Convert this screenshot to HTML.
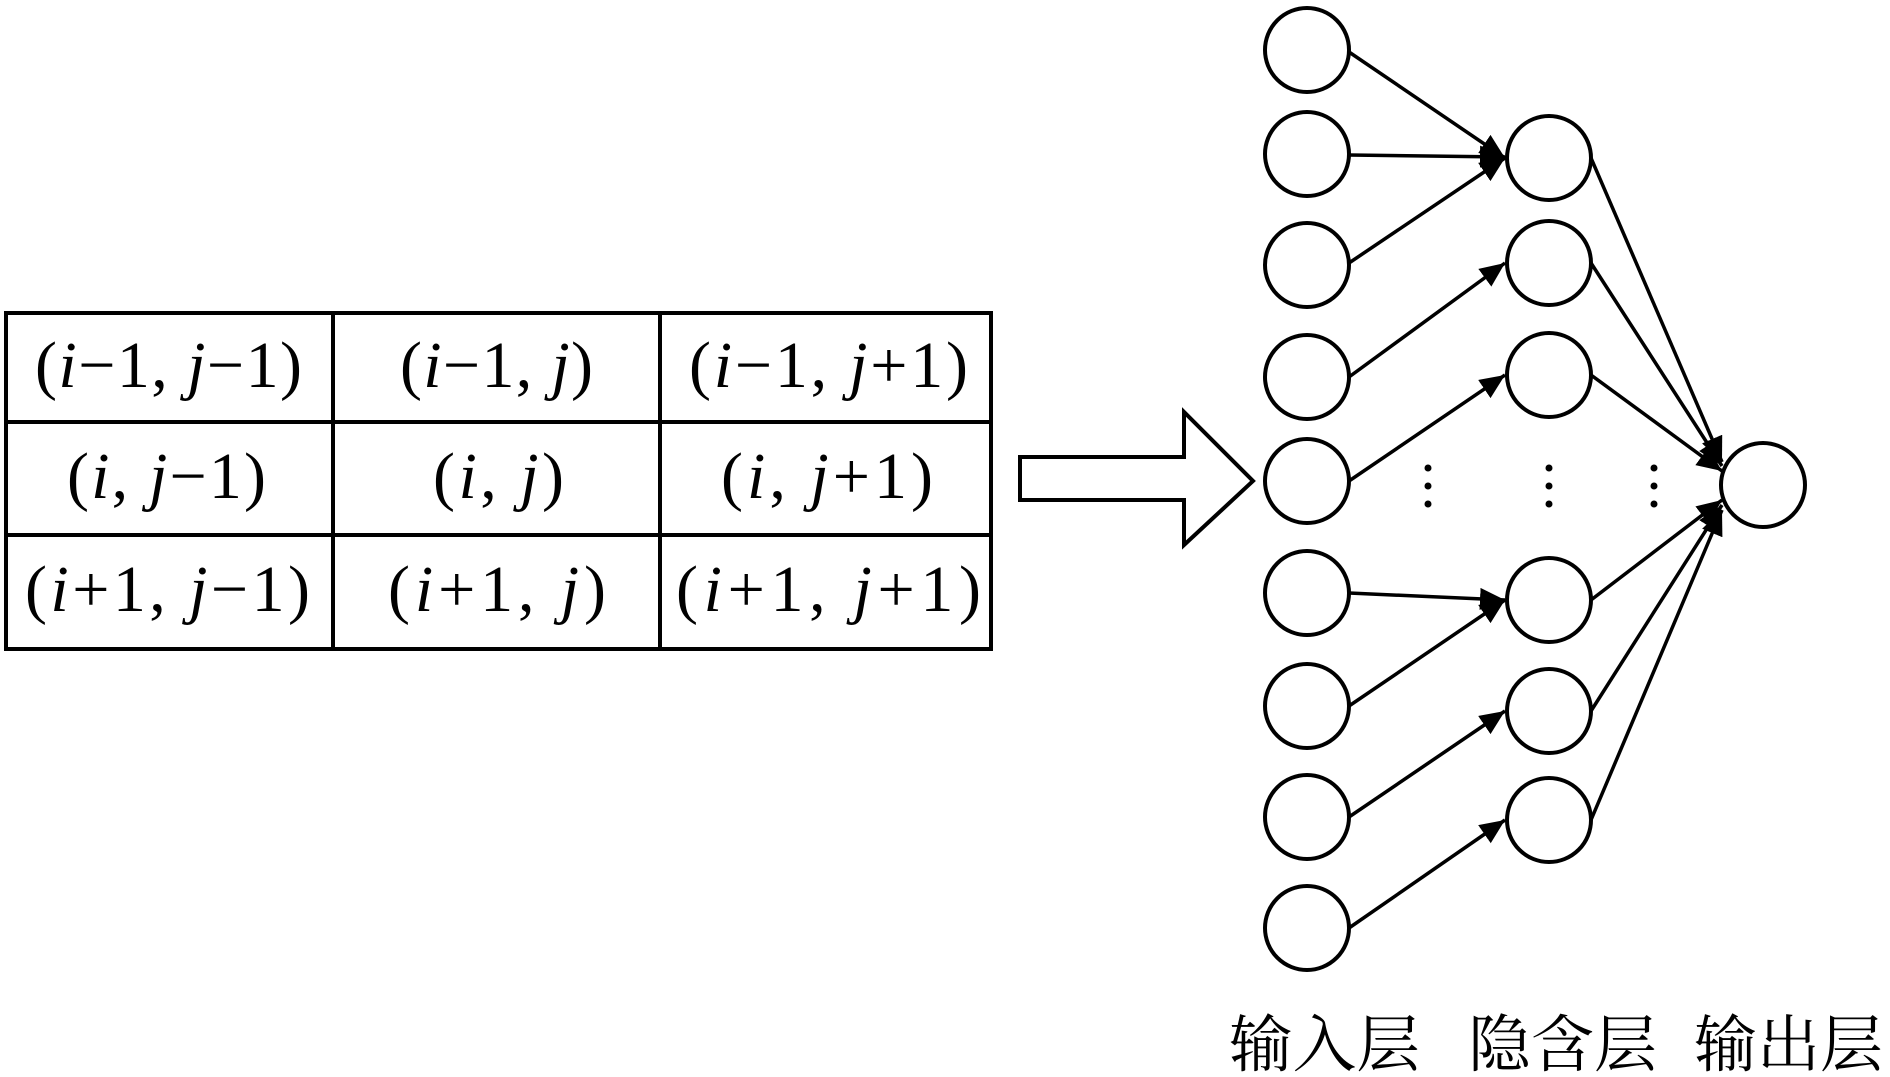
<!DOCTYPE html>
<html><head><meta charset="utf-8"><style>
html,body{margin:0;padding:0;background:#fff;}
svg{display:block;}
.t{font-family:"Liberation Serif",serif;font-size:66px;fill:#000;}
.t tspan.v{font-style:italic;}
.cn{font-family:"Liberation Serif","Noto Serif CJK SC",serif;font-size:62px;fill:#000;}
</style></head><body>
<svg width="1890" height="1077" viewBox="0 0 1890 1077" xmlns="http://www.w3.org/2000/svg">
<defs>
<marker id="a" markerUnits="userSpaceOnUse" markerWidth="30" markerHeight="26" refX="25" refY="11" orient="auto">
<path d="M0,0 L25,11 L0,22 z" fill="#000"/>
</marker>
</defs>
<g stroke="#000" stroke-width="4" fill="none">
<rect x="6" y="313" width="985" height="336"/>
<line x1="6" y1="422" x2="991" y2="422"/>
<line x1="6" y1="535" x2="991" y2="535"/>
<line x1="333" y1="313" x2="333" y2="649"/>
<line x1="660" y1="313" x2="660" y2="649"/>
<path d="M1020,457 L1184,457 L1184,412 L1253,481 L1184,545 L1184,500 L1020,500 Z"/>
</g>
<g class="t">
<text x="35" y="387" textLength="267" lengthAdjust="spacing">(<tspan class="v">i</tspan>−1, <tspan class="v">j</tspan>−1)</text>
<text x="400" y="387" textLength="193" lengthAdjust="spacing">(<tspan class="v">i</tspan>−1, <tspan class="v">j</tspan>)</text>
<text x="689" y="387" textLength="279" lengthAdjust="spacing">(<tspan class="v">i</tspan>−1, <tspan class="v">j</tspan>+1)</text>
<text x="67" y="498" textLength="199" lengthAdjust="spacing">(<tspan class="v">i</tspan>, <tspan class="v">j</tspan>−1)</text>
<text x="433" y="498" textLength="131" lengthAdjust="spacing">(<tspan class="v">i</tspan>, <tspan class="v">j</tspan>)</text>
<text x="721" y="498" textLength="212" lengthAdjust="spacing">(<tspan class="v">i</tspan>, <tspan class="v">j</tspan>+1)</text>
<text x="25" y="611" textLength="285" lengthAdjust="spacing">(<tspan class="v">i</tspan>+1, <tspan class="v">j</tspan>−1)</text>
<text x="388" y="611" textLength="218" lengthAdjust="spacing">(<tspan class="v">i</tspan>+1, <tspan class="v">j</tspan>)</text>
<text x="676" y="611" textLength="305" lengthAdjust="spacing">(<tspan class="v">i</tspan>+1, <tspan class="v">j</tspan>+1)</text>
</g>
<g stroke="#000" stroke-width="4" fill="none">
<circle cx="1307" cy="50" r="42"/>
<circle cx="1307" cy="154" r="42"/>
<circle cx="1307" cy="265" r="42"/>
<circle cx="1307" cy="377" r="42"/>
<circle cx="1307" cy="481" r="42"/>
<circle cx="1307" cy="593" r="42"/>
<circle cx="1307" cy="706" r="42"/>
<circle cx="1307" cy="817" r="42"/>
<circle cx="1307" cy="928" r="42"/>
<circle cx="1549" cy="158" r="42"/>
<circle cx="1549" cy="263" r="42"/>
<circle cx="1549" cy="375" r="42"/>
<circle cx="1549" cy="600" r="42"/>
<circle cx="1549" cy="711" r="42"/>
<circle cx="1549" cy="820" r="42"/>
<circle cx="1763" cy="485" r="42"/>
</g>
<g stroke="#000" stroke-width="3.5" marker-end="url(#a)">
<line x1="1349" y1="52" x2="1505" y2="158"/>
<line x1="1349" y1="155" x2="1505" y2="157"/>
<line x1="1349" y1="263" x2="1505" y2="158"/>
<line x1="1349" y1="377" x2="1505" y2="263"/>
<line x1="1349" y1="481" x2="1505" y2="375"/>
<line x1="1349" y1="593" x2="1505" y2="600"/>
<line x1="1349" y1="706" x2="1505" y2="600"/>
<line x1="1349" y1="817" x2="1505" y2="711"/>
<line x1="1349" y1="928" x2="1505" y2="820"/>
<line x1="1591" y1="158" x2="1722" y2="462"/>
<line x1="1591" y1="263" x2="1722" y2="466"/>
<line x1="1591" y1="375" x2="1722" y2="471"/>
<line x1="1591" y1="600" x2="1722" y2="500"/>
<line x1="1591" y1="711" x2="1722" y2="505"/>
<line x1="1591" y1="820" x2="1722" y2="510"/>
</g>
<g fill="#000">
<circle cx="1428" cy="468" r="3.5"/><circle cx="1428" cy="486" r="3.5"/><circle cx="1428" cy="504" r="3.5"/>
<circle cx="1549" cy="468" r="3.5"/><circle cx="1549" cy="486" r="3.5"/><circle cx="1549" cy="504" r="3.5"/>
<circle cx="1654" cy="468" r="3.5"/><circle cx="1654" cy="486" r="3.5"/><circle cx="1654" cy="504" r="3.5"/>
</g>
<g class="cn">
<text x="1229" y="1066" textLength="191" lengthAdjust="spacingAndGlyphs">输入层</text>
<text x="1468" y="1066" textLength="189" lengthAdjust="spacingAndGlyphs">隐含层</text>
<text x="1694" y="1066" textLength="189" lengthAdjust="spacingAndGlyphs">输出层</text>
</g>
</svg>
</body></html>
